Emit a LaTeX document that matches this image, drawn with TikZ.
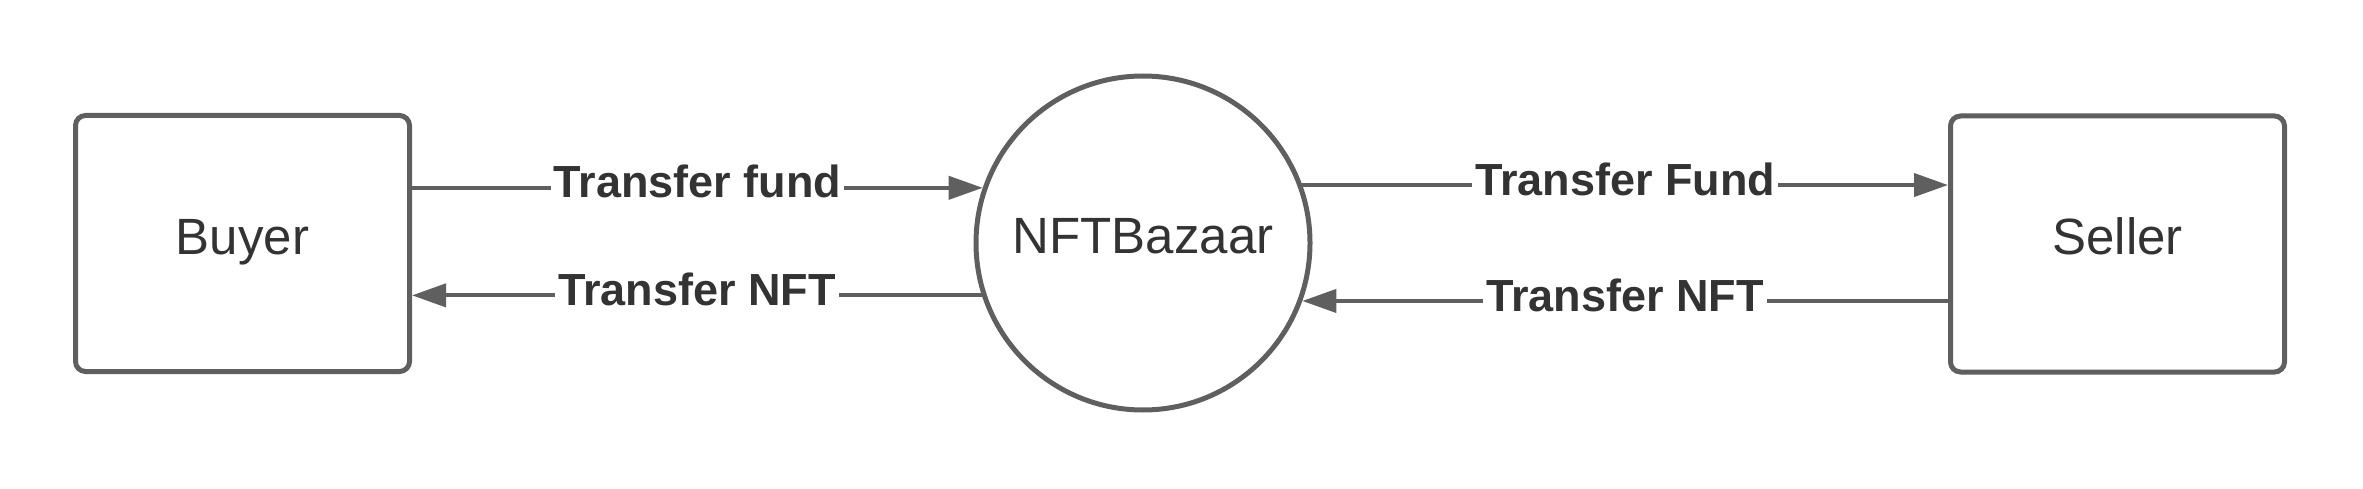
\documentclass[tikz,border=0pt]{standalone}
\usepackage{fontspec}
\setmainfont{Liberation Sans}
\usepackage{tikz}
\usetikzlibrary{arrows.meta}
\definecolor{linegray}{HTML}{5F5F5F}
\definecolor{textgray}{HTML}{333333}

\begin{document}
\begin{tikzpicture}[x=1pt,y=1pt]
        \tikzset{entity/.style={rectangle, rounded corners=10pt, draw=linegray, line width=5pt, minimum width=334pt, minimum height=256pt, text=textgray, text height=37pt, text depth=16pt, font=\fontsize{51}{60}\selectfont},
                 process/.style={circle, draw=linegray, line width=5pt, minimum size=334pt, text=textgray, text height=37pt, text depth=16pt, font=\fontsize{51}{60}\selectfont},
                 flow/.style={draw=linegray, line width=4pt, -{Triangle[length=34pt,width=23pt]}},
                 flowlabel/.style={fill=white, text=textgray, inner xsep=3pt, inner ysep=2pt, yshift=6pt, font=\fontsize{45}{54}\selectfont\bfseries}}
        \useasboundingbox (0,0) rectangle (2363,488);

	%---NODES---
        \node[entity] (buyer) at (242.5,244.5) {Buyer};
        \node[process] (bazaar) at (1143,245) {NFTBazaar};
        \node[entity] (seller) at (2117.5,244) {Seller};

	%---EDGES---
        \draw[flow] (buyer.east |- bazaar.161) -- node[flowlabel] {Transfer fund} (bazaar.161) ;
        \draw[flow] (bazaar.198) -- node[flowlabel] {Transfer NFT} (buyer.east |- bazaar.198) ;

        \draw[flow] (bazaar.20) -- node[flowlabel] {Transfer Fund} (seller.west |- bazaar.20) ;
        \draw[flow] (seller.west |- bazaar.340) -- node[flowlabel] {Transfer NFT} (bazaar.340) ;
    \end{tikzpicture}
\end{document}
